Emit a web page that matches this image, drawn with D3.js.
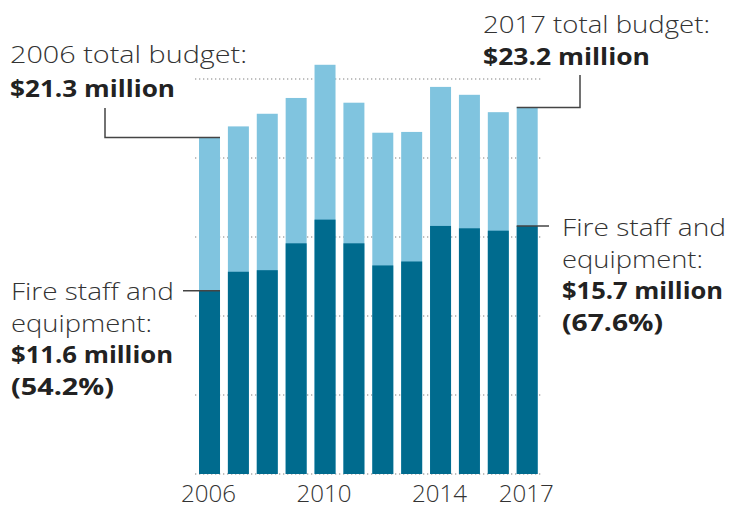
<!DOCTYPE html>
<html>
<head>
<meta charset="utf-8">
<script src="https://cdn.jsdelivr.net/npm/d3@7"></script>
<style>
  body { margin: 0; background: #fff; }
  svg text { font-family: "Open Sans", Lato, sans-serif; }
</style>
</head>
<body>
<svg id="chart"></svg>
<script>
// данные: годы, общий бюджет и расходы на пожарных (млн $)
const years = ["2006","2007","2008","2009","2010","2011","2012","2013","2014","2015","2016","2017"];
const totalBudget = [21.3, 22.0, 22.8, 23.8, 25.9, 23.5, 21.6, 21.65, 24.5, 24.0, 22.9, 23.2];
const fireStaff = [11.6, 12.8, 12.9, 14.6, 16.1, 14.6, 13.2, 13.45, 15.7, 15.55, 15.4, 15.7];
const gridTicks = [0, 5, 10, 15, 20, 25];
const xTickLabels = ["2006", "2010", "2014", "2017"];

let width = 729, height = 508;
let svg = d3.select("#chart").attr("width", width).attr("height", height);

let scaleX = d3.scaleBand()
    .domain(years)
    .range([195, 541.7])
    .paddingInner(0.273)
    .paddingOuter(0.139);

let scaleY = d3.scaleLinear()
    .domain([0, 25])
    .range([474, 79]);

// пунктирная сетка
svg.append("g")
    .selectAll("line")
    .data(gridTicks)
    .enter()
    .append("line")
    .attr("x1", 195)
    .attr("x2", 541.7)
    .attr("y1", d => scaleY(d))
    .attr("y2", d => scaleY(d))
    .attr("stroke", "#aaa")
    .attr("stroke-width", 1.3)
    .attr("stroke-dasharray", "1.3,2.7");

// общий бюджет (светлые столбики)
svg.append("g")
    .selectAll("rect")
    .data(years)
    .enter()
    .append("rect")
    .attr("x", d => scaleX(d))
    .attr("width", scaleX.bandwidth())
    .attr("y", (d, i) => scaleY(totalBudget[i]))
    .attr("height", (d, i) => scaleY(0) - scaleY(totalBudget[i]))
    .attr("fill", "#80c4df");

// пожарные (тёмные столбики)
svg.append("g")
    .selectAll("rect")
    .data(years)
    .enter()
    .append("rect")
    .attr("x", d => scaleX(d))
    .attr("width", scaleX.bandwidth())
    .attr("y", (d, i) => scaleY(fireStaff[i]))
    .attr("height", (d, i) => scaleY(0) - scaleY(fireStaff[i]))
    .attr("fill", "#006b8e");

// подписи оси X
svg.append("g")
    .selectAll("text")
    .data(xTickLabels)
    .enter()
    .append("text")
    .attr("x", d => scaleX(d) + scaleX.bandwidth() / 2 - 1)
    .attr("y", 502)
    .attr("text-anchor", "middle")
    .attr("font-size", 24)
    .attr("font-weight", 300)
    .attr("fill", "#333")
    .attr("textLength", 55)
    .attr("lengthAdjust", "spacingAndGlyphs")
    .text(d => d);

// линии-выноски
let first = years[0], last = years[years.length - 1];
let n = years.length - 1;
let lines = [
    [[105, 108], [105, scaleY(totalBudget[0])], [scaleX(first) + scaleX.bandwidth(), scaleY(totalBudget[0])]],
    [[scaleX(last), scaleY(totalBudget[n])], [580, scaleY(totalBudget[n])], [580, 75]],
    [[183, scaleY(fireStaff[0])], [scaleX(first) + scaleX.bandwidth(), scaleY(fireStaff[0])]],
    [[scaleX(last), scaleY(fireStaff[n])], [549, scaleY(fireStaff[n])]]
];
svg.append("g")
    .selectAll("path")
    .data(lines)
    .enter()
    .append("path")
    .attr("d", d => d3.line()(d))
    .attr("fill", "none")
    .attr("stroke", "#444")
    .attr("stroke-width", 1.5);

// текстовые аннотации (w - ширина строки как в оригинале)
function label(x, y, dy, rows) {
    rows.forEach((r, i) => {
        svg.append("text")
            .attr("x", x)
            .attr("y", y + i * dy)
            .attr("font-size", 23.5)
            .attr("font-weight", r.bold ? 700 : 300)
            .attr("fill", r.bold ? "#222" : "#333")
            .attr("textLength", r.w)
            .attr("lengthAdjust", "spacingAndGlyphs")
            .text(r.text);
    });
}
label(10, 63, 34, [
    {text: "2006 total budget:", w: 237},
    {text: "$21.3 million", bold: true, w: 165}
]);
label(483, 33, 32, [
    {text: "2017 total budget:", w: 227},
    {text: "$23.2 million", bold: true, w: 167}
]);
label(11, 300, 31.7, [
    {text: "Fire staff and", w: 163},
    {text: "equipment:", w: 141},
    {text: "$11.6 million", bold: true, w: 162},
    {text: "(54.2%)", bold: true, w: 103}
]);
label(562, 236, 31.7, [
    {text: "Fire staff and", w: 164},
    {text: "equipment:", w: 141},
    {text: "$15.7 million", bold: true, w: 161},
    {text: "(67.6%)", bold: true, w: 101}
]);
</script>
</body>
</html>
